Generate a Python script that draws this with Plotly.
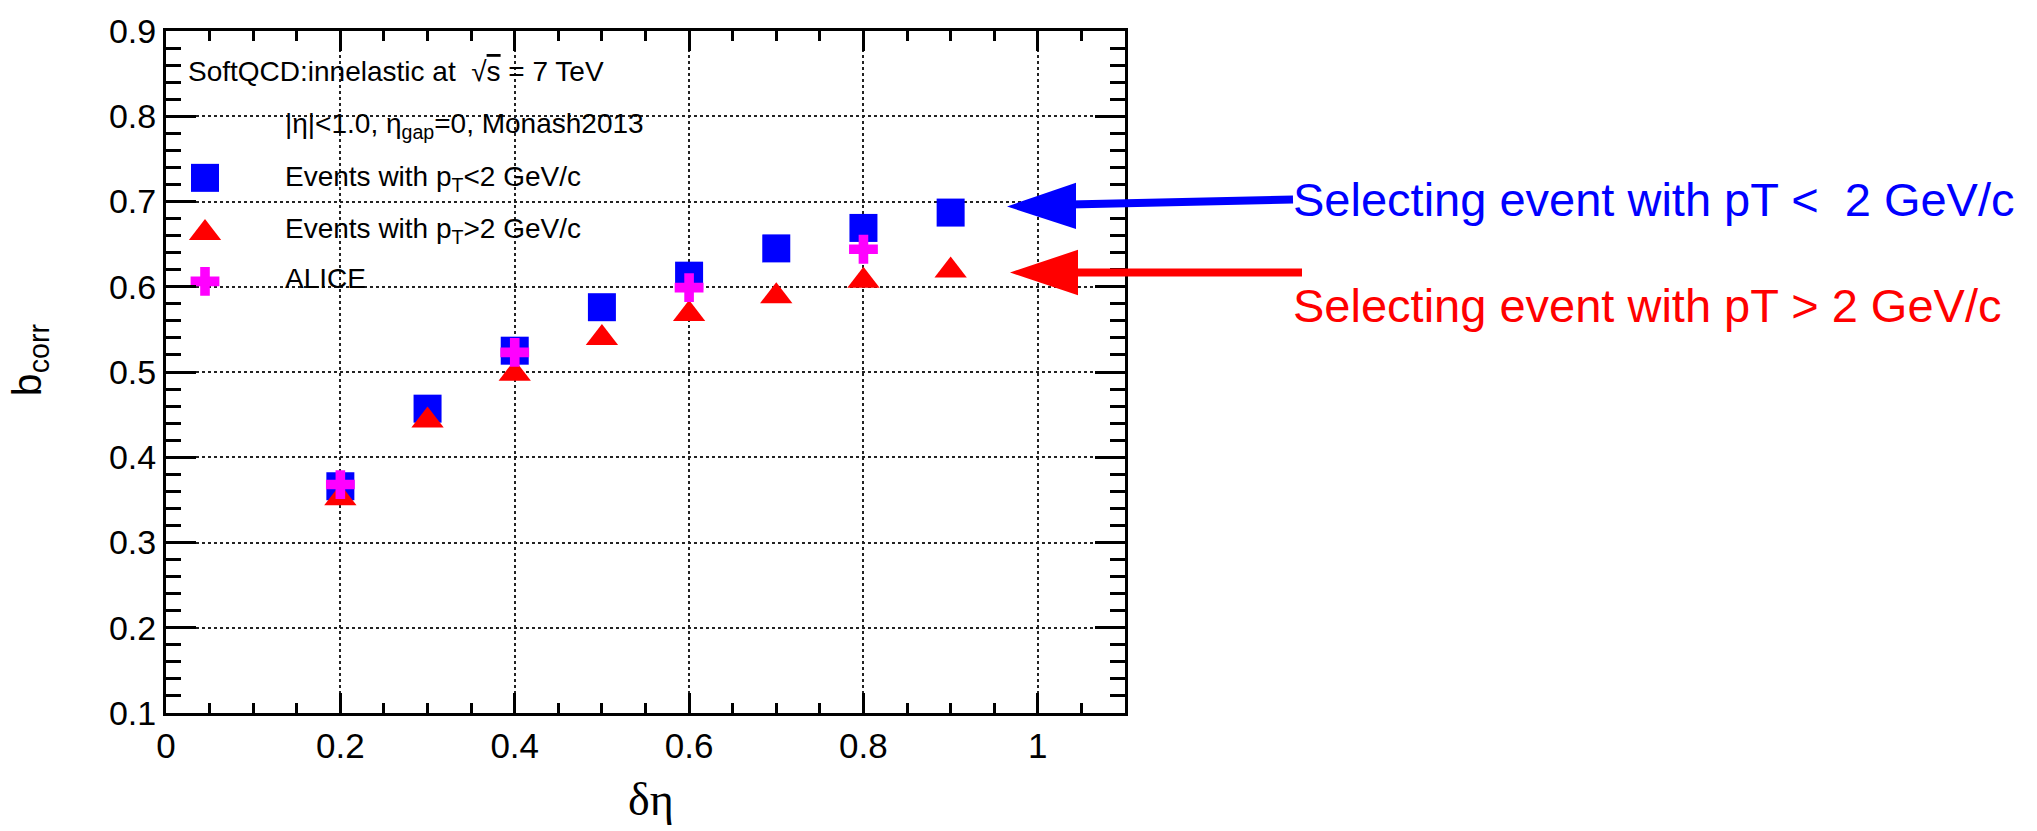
import plotly.graph_objects as go

# ---------------- data ----------------
deta = [0.2, 0.3, 0.4, 0.5, 0.6, 0.7, 0.8, 0.9]
b_pt_lt2 = [0.366, 0.457, 0.525, 0.576, 0.613, 0.645, 0.669, 0.687]
b_pt_gt2 = [0.352, 0.443, 0.498, 0.540, 0.568, 0.589, 0.607, 0.619]
deta_alice = [0.2, 0.4, 0.6, 0.8]
b_alice = [0.368, 0.523, 0.599, 0.644]

x_tick_vals = [0, 0.2, 0.4, 0.6, 0.8, 1.0]
x_tick_text = ["0", "0.2", "0.4", "0.6", "0.8", "1"]
y_tick_vals = [0.1, 0.2, 0.3, 0.4, 0.5, 0.6, 0.7, 0.8, 0.9]
y_tick_text = ["0.1", "0.2", "0.3", "0.4", "0.5", "0.6", "0.7", "0.8", "0.9"]

header_lines = ["SoftQCD:innelastic at  √<span style='text-decoration:overline'>s</span> = 7 TeV",
                "|η|&lt;1.0, η<sub>gap</sub>=0, Monash2013"]
series_names = ["Events with p<sub>T</sub>&lt;2 GeV/c",
                "Events with p<sub>T</sub>&gt;2 GeV/c",
                "ALICE"]
arrow_texts = ["Selecting event with pT &lt; \u00a02 GeV/c",
               "Selecting event with pT &gt; 2 GeV/c"]
x_title = "δη"
y_title = "b<sub>corr</sub>"

# ---------------- style / layout ----------------
W, H = 2037, 831
L, R, T, B = 166, 912, 21, 118
PW, PH = W - L - R, H - T - B
BLUE, RED, MAG = "#0000ff", "#ff0000", "#ff00ff"
SANS = "Liberation Sans, Arial, sans-serif"
SERIF = "Liberation Serif, Times New Roman, serif"


def px(xp):
    return (xp - L) / PW


def py(yp):
    return (H - B - yp) / PH


fig = go.Figure()
fig.add_trace(go.Scatter(x=deta, y=b_pt_lt2, mode="markers", name=series_names[0],
                         marker=dict(symbol="square", size=28, color=BLUE, line=dict(width=0))))
fig.add_trace(go.Scatter(x=deta, y=b_pt_gt2, mode="markers", name=series_names[1],
                         marker=dict(symbol="triangle-up", size=28, color=RED, line=dict(width=0))))
fig.add_trace(go.Scatter(x=deta_alice, y=b_alice, mode="markers", name=series_names[2],
                         marker=dict(symbol="cross", size=24, color=MAG, line=dict(width=0))))

# legend keys (layout positions, in plot-area fractions)
key_x = px(205)
key_y = [py(170), py(226), py(275)]
key_syms = [("square", 28, BLUE), ("triangle-up", 28, RED), ("cross", 24, MAG)]
for (sym, sz, col), ky in zip(key_syms, key_y):
    fig.add_trace(go.Scatter(x=[key_x], y=[ky], xaxis="x2", yaxis="y2", mode="markers",
                             marker=dict(symbol=sym, size=sz, color=col, line=dict(width=0)),
                             hoverinfo="skip"))

annotations = []
annotations.append(dict(x=px(186), y=py(62), xref="paper", yref="paper", text=header_lines[0],
                        showarrow=False, xanchor="left", yanchor="middle",
                        font=dict(family=SANS, size=28, color="black")))
annotations.append(dict(x=px(283), y=py(117), xref="paper", yref="paper", text=header_lines[1],
                        showarrow=False, xanchor="left", yanchor="middle",
                        font=dict(family=SANS, size=28, color="black")))
for name, yc in zip(series_names, [171, 223, 272]):
    annotations.append(dict(x=px(283), y=py(yc), xref="paper", yref="paper", text=name,
                            showarrow=False, xanchor="left", yanchor="middle",
                            font=dict(family=SANS, size=28, color="black")))

# axis titles
annotations.append(dict(x=px(651), y=py(801), xref="paper", yref="paper", text=x_title,
                        showarrow=False, xanchor="center", yanchor="middle",
                        font=dict(family=SERIF, size=46, color="black")))
annotations.append(dict(x=px(30), y=py(355), xref="paper", yref="paper", text=y_title,
                        showarrow=False, xanchor="center", yanchor="middle", textangle=-90,
                        font=dict(family=SANS, size=41, color="black")))

# right-side labels
annotations.append(dict(x=px(1291), y=py(192), xref="paper", yref="paper", text=arrow_texts[0],
                        showarrow=False, xanchor="left", yanchor="middle",
                        font=dict(family=SANS, size=47, color=BLUE)))
annotations.append(dict(x=px(1291), y=py(300), xref="paper", yref="paper", text=arrow_texts[1],
                        showarrow=False, xanchor="left", yanchor="middle",
                        font=dict(family=SANS, size=47, color=RED)))

shapes = []
# blue arrow
shapes.append(dict(type="line", xref="paper", yref="paper", x0=px(1070), y0=py(197),
                   x1=px(1293), y1=py(192), line=dict(color=BLUE, width=8)))
shapes.append(dict(type="path", xref="paper", yref="paper",
                   path=f"M {px(1007)} {py(199)} L {px(1076)} {py(175)} L {px(1076)} {py(222)} Z",
                   fillcolor=BLUE, line=dict(width=0)))
# red arrow
shapes.append(dict(type="line", xref="paper", yref="paper", x0=px(1072), y0=py(266),
                   x1=px(1302), y1=py(266), line=dict(color=RED, width=8)))
shapes.append(dict(type="path", xref="paper", yref="paper",
                   path=f"M {px(1010)} {py(266)} L {px(1078)} {py(243)} L {px(1078)} {py(289)} Z",
                   fillcolor=RED, line=dict(width=0)))

axis_common = dict(showline=True, linecolor="black", linewidth=3, mirror="allticks",
                   ticks="inside", tickcolor="black", tickwidth=3, zeroline=False,
                   showgrid=True, gridcolor="#222222", gridwidth=1.5, griddash="dot")

fig.update_layout(
    width=W, height=H, autosize=False,
    margin=dict(l=L, r=R, t=T, b=B, pad=0),
    paper_bgcolor="white", plot_bgcolor="white",
    showlegend=False,
    xaxis=dict(range=[0, 1.1], tickvals=x_tick_vals, ticktext=x_tick_text, ticklen=20,
               tickfont=dict(family=SANS, size=35, color="black"),
               minor=dict(dtick=0.05, tick0=0, ticklen=10, tickwidth=3, tickcolor="black",
                          ticks="inside", showgrid=False),
               **axis_common),
    yaxis=dict(range=[0.1, 0.9], tickvals=y_tick_vals, ticktext=y_tick_text, ticklen=30,
               tickfont=dict(family=SANS, size=34, color="black"),
               minor=dict(dtick=0.02, tick0=0.1, ticklen=15, tickwidth=3, tickcolor="black",
                          ticks="inside", showgrid=False),
               **axis_common),
    xaxis2=dict(range=[0, 1], overlaying="x", visible=False),
    yaxis2=dict(range=[0, 1], overlaying="y", visible=False),
    annotations=annotations,
    shapes=shapes,
)

fig.write_html("out.html")
